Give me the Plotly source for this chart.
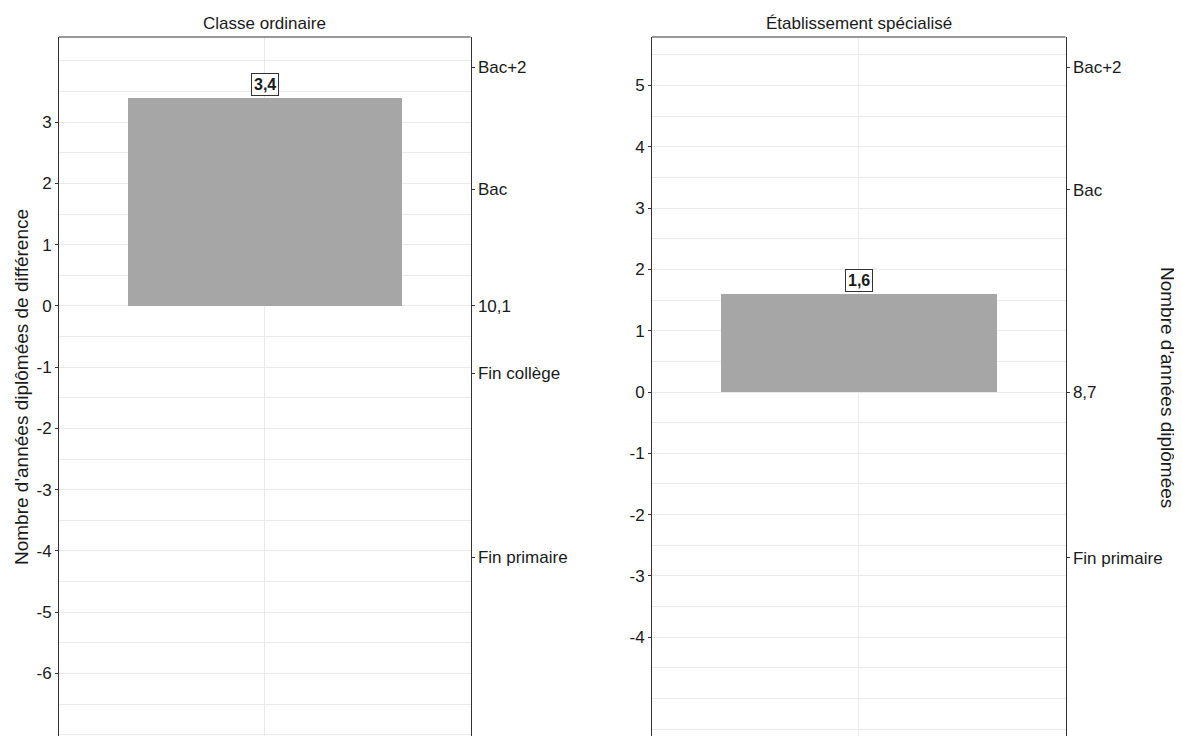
import plotly.graph_objects as go

# ---- data ----
categories = ["Classe ordinaire", "Établissement spécialisé"]
diff_values = [3.4, 1.6]
diff_labels = ["3,4", "1,6"]
baseline_years = [10.1, 8.7]
baseline_labels = ["10,1", "8,7"]
level_labels_1 = ["Bac+2", "Bac", "Fin collège", "Fin primaire"]
level_years_1 = [14, 12, 9, 6]
level_labels_2 = ["Bac+2", "Bac", "Fin primaire"]
level_years_2 = [14, 12, 6]
left_ticks_1 = [-6, -5, -4, -3, -2, -1, 0, 1, 2, 3]
left_ticks_2 = [-4, -3, -2, -1, 0, 1, 2, 3, 4, 5]
y_ranges = [[-7.02, 4.39], [-5.61, 5.79]]

W, H = 1182, 736
OFF = 8  # page body margin
FONT = "Liberation Sans, Arial, sans-serif"
LINE = "#333333"
GRID = "#EBEBEB"
BAR = "#A6A6A6"
TXT = "#1a1a1a"


def px_x(sx):
    return (sx - OFF) / W


def px_y(sy):
    return 1 - (sy - OFF) / H


panels_px = [(59, 470.5), (652, 1065.5)]
ydom = [px_y(736), px_y(37)]

fig = go.Figure()

level_labels = [level_labels_1, level_labels_2]
level_years = [level_years_1, level_years_2]
left_ticks = [left_ticks_1, left_ticks_2]

for i in range(2):
    xname = "x" if i == 0 else "x2"
    yname = "y" if i == 0 else "y3"
    y2name = "y2" if i == 0 else "y4"
    fig.add_trace(go.Bar(
        x=[1], y=[diff_values[i]], width=[0.8],
        marker=dict(color=BAR, line=dict(width=0)),
        xaxis=xname, yaxis=yname, showlegend=False, hoverinfo="skip",
    ))
    # invisible trace so that the secondary axis is drawn
    fig.add_trace(go.Scatter(
        x=[1], y=[0], mode="markers", marker=dict(opacity=0, size=1),
        xaxis=xname, yaxis=y2name, showlegend=False, hoverinfo="skip",
    ))

    x0, x1 = panels_px[i]
    xdom = [px_x(x0), px_x(x1)]
    xkey = "xaxis" if i == 0 else "xaxis2"
    ykey = "yaxis" if i == 0 else "yaxis3"
    y2key = "yaxis2" if i == 0 else "yaxis4"

    fig.layout[xkey] = dict(
        domain=xdom, range=[0.4, 1.6], anchor=yname,
        tickmode="array", tickvals=[1], showticklabels=False, ticks="",
        showgrid=True, gridcolor=GRID, gridwidth=1, zeroline=False,
        showline=False, fixedrange=True,
    )
    fig.layout[ykey] = dict(
        domain=ydom, range=y_ranges[i], anchor=xname, side="left",
        tickmode="array", tickvals=left_ticks[i],
        ticktext=[str(v) for v in left_ticks[i]],
        ticks="outside", ticklen=3, tickwidth=1, tickcolor=LINE,
        tickfont=dict(family=FONT, size=17, color=TXT),
        showgrid=True, gridcolor=GRID, gridwidth=1, zeroline=False,
        minor=dict(tickmode="linear", tick0=0, dtick=0.5, showgrid=True,
                   gridcolor=GRID, gridwidth=1, ticks=""),
        showline=True, linecolor=LINE, linewidth=1, fixedrange=True,
    )
    sec_vals = [yv - baseline_years[i] for yv in level_years[i]] + [0]
    sec_text = level_labels[i] + [baseline_labels[i]]
    fig.layout[y2key] = dict(
        overlaying=yname, anchor=xname, side="right",
        range=y_ranges[i], tickmode="array", tickvals=sec_vals,
        ticktext=sec_text,
        ticks="outside", ticklen=3, tickwidth=1, tickcolor=LINE,
        tickfont=dict(family=FONT, size=17, color=TXT),
        showgrid=False, zeroline=False,
        showline=True, linecolor=LINE, linewidth=1, fixedrange=True,
    )

    # top border of panel
    fig.add_shape(type="line", xref="paper", yref="paper",
                  x0=xdom[0], x1=xdom[1], y0=ydom[1], y1=ydom[1],
                  line=dict(color=LINE, width=1))

    # panel title
    fig.add_annotation(text=categories[i], xref="paper", yref="paper",
                       x=(xdom[0] + xdom[1]) / 2, y=px_y(24),
                       showarrow=False, xanchor="center", yanchor="middle",
                       font=dict(family=FONT, size=17, color=TXT))

    # value label
    fig.add_annotation(text="<b>" + diff_labels[i] + "</b>", x=1, y=diff_values[i],
                       xref=xname, yref=yname, showarrow=False,
                       xanchor="center", yanchor="bottom", yshift=2,
                       font=dict(family=FONT, size=16, color=TXT),
                       bgcolor="white", bordercolor=LINE, borderwidth=1, borderpad=2)

# axis titles
fig.add_annotation(text="Nombre d'années diplômées de différence",
                   xref="paper", yref="paper", x=px_x(21), y=px_y(387),
                   textangle=-90, showarrow=False, xanchor="center", yanchor="middle",
                   font=dict(family=FONT, size=19, color=TXT))
fig.add_annotation(text="Nombre d'années diplômées",
                   xref="paper", yref="paper", x=px_x(1168), y=px_y(387),
                   textangle=90, showarrow=False, xanchor="center", yanchor="middle",
                   font=dict(family=FONT, size=19, color=TXT))

fig.update_layout(
    width=W, height=H, autosize=False,
    margin=dict(l=0, r=0, t=0, b=0),
    paper_bgcolor="white", plot_bgcolor="white",
    showlegend=False, bargap=0,
    font=dict(family=FONT),
)

fig.write_html("out.html", config={"displayModeBar": False})
